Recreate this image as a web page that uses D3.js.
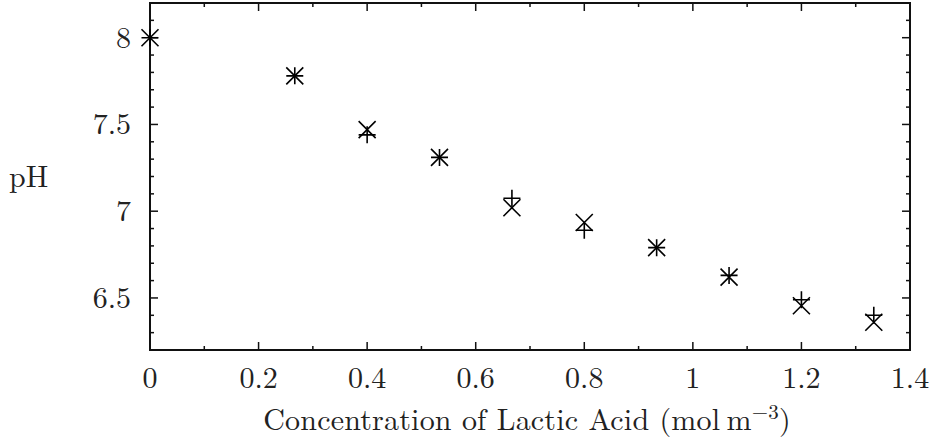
<!DOCTYPE html>
<html>
<head>
<meta charset="utf-8">
<script src="https://cdn.jsdelivr.net/npm/d3@7"></script>
<style>
  body { margin: 0; background: #fff; }
  text { font-family: "Latin Modern Roman", "Liberation Serif", serif; fill: #222; }
</style>
</head>
<body>
<div class="canvas"></div>
<script>
// data
const conc = [0, 0.2667, 0.4, 0.5333, 0.6667, 0.8, 0.9333, 1.0667, 1.2, 1.3333];
const phPlus = [8.0, 7.78, 7.44, 7.31, 7.075, 6.89, 6.79, 6.63, 6.49, 6.40];
const phCross = [8.0, 7.78, 7.47, 7.31, 7.02, 6.935, 6.79, 6.62, 6.455, 6.36];
const xTicks = [0, 0.2, 0.4, 0.6, 0.8, 1, 1.2, 1.4];
const yTicks = [6.5, 7, 7.5, 8];

const svg = d3.select('.canvas')
    .append('svg')
    .attr('width', 939)
    .attr('height', 441);

const pLeft = 150, pRight = 910, pTop = 3, pBottom = 350;

const x = d3.scaleLinear().domain([0, 1.4]).range([pLeft, pRight]);
const y = d3.scaleLinear().domain([6.2, 8.2]).range([pBottom, pTop]);

const axisCol = '#111';

// minor + major ticks, mirrored on all four sides
const xMinor = d3.range(0, 1.401, 0.1);
const yMinor = d3.range(6.2, 8.201, 0.1);

const ticks = svg.append('g').attr('stroke', axisCol).attr('stroke-width', 1.5);
xMinor.forEach(v => {
    const major = xTicks.some(t => Math.abs(t - v) < 1e-6);
    const len = major ? 8 : 4;
    ticks.append('line').attr('x1', x(v)).attr('x2', x(v)).attr('y1', pBottom).attr('y2', pBottom - len);
    ticks.append('line').attr('x1', x(v)).attr('x2', x(v)).attr('y1', pTop).attr('y2', pTop + len);
});
yMinor.forEach(v => {
    const major = yTicks.some(t => Math.abs(t - v) < 1e-6);
    const len = major ? 8 : 4;
    ticks.append('line').attr('y1', y(v)).attr('y2', y(v)).attr('x1', pLeft).attr('x2', pLeft + len);
    ticks.append('line').attr('y1', y(v)).attr('y2', y(v)).attr('x1', pRight).attr('x2', pRight - len);
});

// frame
svg.append('rect')
    .attr('x', pLeft).attr('y', pTop)
    .attr('width', pRight - pLeft).attr('height', pBottom - pTop)
    .attr('fill', 'none')
    .attr('stroke', axisCol)
    .attr('stroke-width', 2);

// tick labels
svg.selectAll('.xl')
    .data(xTicks)
    .enter()
    .append('text')
    .attr('x', d => x(d))
    .attr('y', 388)
    .attr('text-anchor', 'middle')
    .attr('font-size', 30)
    .text(d => d);

svg.selectAll('.yl')
    .data(yTicks)
    .enter()
    .append('text')
    .attr('x', 131)
    .attr('y', d => y(d) + 10)
    .attr('text-anchor', 'end')
    .attr('font-size', 30)
    .text(d => d);

// axis titles
svg.append('text')
    .attr('x', 9).attr('y', 187)
    .attr('font-size', 30)
    .text('pH');

const xt = svg.append('text')
    .attr('x', (pLeft + pRight) / 2 - 3).attr('y', 430)
    .attr('text-anchor', 'middle')
    .attr('font-size', 30)
    .attr('letter-spacing', 0.2);
xt.append('tspan').text('Concentration of Lactic Acid (mol\u2009m');
xt.append('tspan').attr('dy', -11).attr('font-size', 21).text('\u22123');
xt.append('tspan').attr('dy', 11).text(')');

// markers
const s = 8.5;
const marks = svg.append('g').attr('stroke', '#000').attr('stroke-width', 1.6);

marks.selectAll('.plus')
    .data(conc.map((c, i) => [c, phPlus[i]]))
    .enter()
    .append('path')
    .attr('d', d => {
        const px = x(d[0]), py = y(d[1]);
        return `M${px - s},${py}H${px + s}M${px},${py - s}V${py + s}`;
    });

marks.selectAll('.cross')
    .data(conc.map((c, i) => [c, phCross[i]]))
    .enter()
    .append('path')
    .attr('d', d => {
        const px = x(d[0]), py = y(d[1]);
        return `M${px - s},${py - s}L${px + s},${py + s}M${px - s},${py + s}L${px + s},${py - s}`;
    });
</script>
</body>
</html>
